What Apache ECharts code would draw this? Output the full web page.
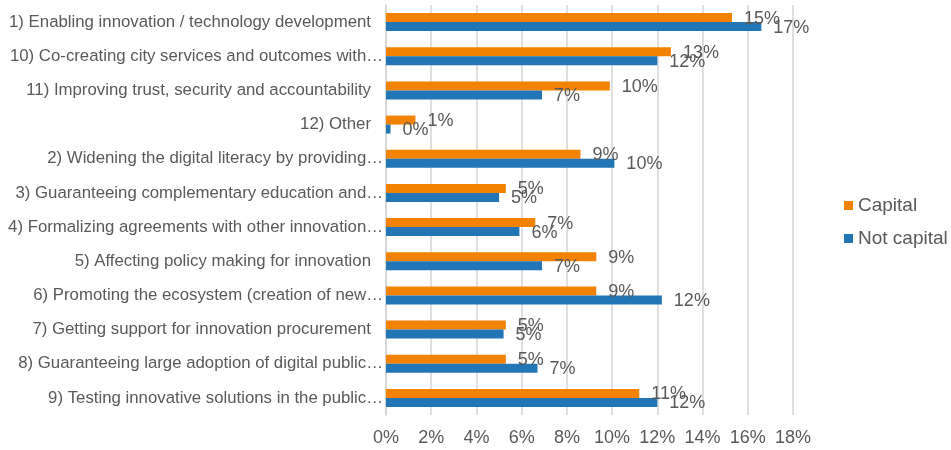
<!DOCTYPE html>
<html>
<head>
<meta charset="utf-8">
<script src="https://cdn.jsdelivr.net/npm/echarts@6/dist/echarts.min.js"></script>
<style>
  html, body { margin: 0; padding: 0; background: #fff; }
  #chart { width: 951px; height: 450px; }
</style>
</head>
<body>
<div id="chart"></div>
<script>
// 类目（从上到下）
const categories = [
  '1) Enabling innovation / technology development',
  '10) Co-creating city services and outcomes with…',
  '11) Improving trust, security and accountability',
  '12) Other',
  '2) Widening the digital literacy by providing…',
  '3) Guaranteeing complementary education and…',
  '4) Formalizing agreements with other innovation…',
  '5) Affecting policy making for innovation',
  '6) Promoting the ecosystem (creation of new…',
  '7) Getting support for innovation procurement',
  '8) Guaranteeing large adoption of digital public…',
  '9) Testing innovative solutions in the public…'
]
// 百分比数据
const capital = [15.3, 12.6, 9.9, 1.3, 8.6, 5.3, 6.6, 9.3, 9.3, 5.3, 5.3, 11.2]
const notCapital = [16.6, 12.0, 6.9, 0.2, 10.1, 5.0, 5.9, 6.9, 12.2, 5.2, 6.7, 12.0]

const textColor = '#595959'
const font = 'Liberation Sans'

let myChart = echarts.init(document.getElementById('chart'))

let labelOpt = {
  show: true,
  position: 'right',
  distance: 12,
  offset: [0, 1],
  color: textColor,
  fontFamily: font,
  fontSize: 18,
  formatter: p => Math.round(p.value) + '%'
}

let options = {
  animation: false,
  grid: {
    left: 386,
    right: 158,
    top: 5,
    bottom: 35
  },
  legend: {
    orient: 'vertical',
    left: 839,
    top: 191,
    itemWidth: 9,
    itemHeight: 9,
    itemGap: 14,
    icon: 'rect',
    textStyle: { color: textColor, fontFamily: font, fontSize: 19 },
    data: ['Capital', 'Not capital']
  },
  xAxis: {
    type: 'value',
    min: 0,
    max: 18,
    interval: 2,
    axisLine: { show: false },
    axisTick: { show: false },
    splitLine: { lineStyle: { color: '#d4d4d4', width: 1.5 } },
    axisLabel: {
      margin: 14,
      color: textColor,
      fontFamily: font,
      fontSize: 18,
      formatter: v => v + '%'
    }
  },
  yAxis: {
    type: 'category',
    inverse: true,
    data: categories,
    axisLine: { show: true, lineStyle: { color: '#d4d4d4', width: 1.5 } },
    axisTick: { show: false },
    axisLabel: {
      margin: 3,
      color: textColor,
      fontFamily: font,
      fontSize: 16.8,
      formatter: v => v.endsWith('…') ? v : '{p|' + v + '}',
      rich: {
        p: { color: textColor, fontFamily: font, fontSize: 16.8, padding: [0, 12, 0, 0] }
      }
    }
  },
  series: [
    {
      name: 'Capital',
      type: 'bar',
      data: capital,
      barWidth: 9,
      barGap: '0%',
      itemStyle: { color: '#f28200' },
      label: labelOpt
    },
    {
      name: 'Not capital',
      type: 'bar',
      data: notCapital,
      barWidth: 9,
      itemStyle: { color: '#2276b6' },
      label: labelOpt
    }
  ]
}

myChart.setOption(options)
</script>
</body>
</html>
